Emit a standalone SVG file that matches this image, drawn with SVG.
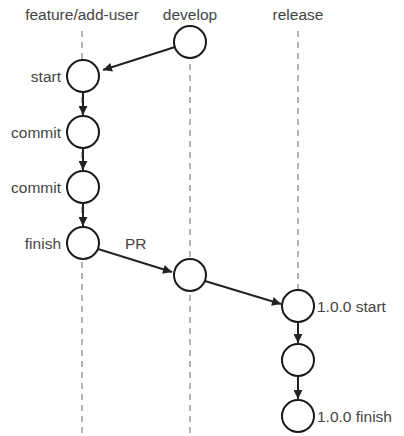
<svg xmlns="http://www.w3.org/2000/svg" width="404" height="436" viewBox="0 0 404 436">
<defs>
<style>
.lane{stroke:#a0a0a0;stroke-width:1.6;stroke-dasharray:6 5;fill:none}
.node{fill:#fff;stroke:#1a1a1a;stroke-width:2}
.edge{stroke:#222;stroke-width:2;fill:none;marker-end:url(#ah)}
text{font-family:"Liberation Sans",Arial,sans-serif;font-size:15.5px;fill:#444}
.r{text-anchor:end}
.c{text-anchor:middle}
</style>
<marker id="ah" viewBox="0 0 10 10" refX="10" refY="5" markerWidth="10" markerHeight="9" markerUnits="userSpaceOnUse" orient="auto"><path d="M0,0L10,5L0,10z" fill="#222"/></marker>
</defs>
<g id="lanes">
<line class="lane" x1="82" y1="31" x2="82" y2="436"/>
<line class="lane" x1="190" y1="31" x2="190" y2="436"/>
<line class="lane" x1="298" y1="31" x2="298" y2="300"/>
<text class="c" x="82" y="20">feature/add-user</text>
<text class="c" x="190" y="20">develop</text>
<text class="c" x="298" y="20">release</text>
</g>
<g id="connectors">
<line class="edge" x1="175" y1="47" x2="103" y2="70"/>
<line class="edge" x1="83" y1="92" x2="83" y2="115"/>
<line class="edge" x1="83" y1="148" x2="83" y2="170"/>
<line class="edge" x1="83" y1="203" x2="83" y2="226"/>
<line class="edge" x1="98" y1="249" x2="172" y2="272"/>
<line class="edge" x1="205" y1="281" x2="281" y2="304"/>
<line class="edge" x1="298" y1="322" x2="298" y2="343"/>
<line class="edge" x1="298" y1="377" x2="298" y2="399"/>
<text x="125" y="249">PR</text>
</g>
<g id="n-dev1"><circle class="node" cx="190" cy="42" r="16"/></g>
<g id="n-start"><circle class="node" cx="83" cy="76" r="16"/><text class="r" x="61" y="82">start</text></g>
<g id="n-commit1"><circle class="node" cx="83" cy="132" r="16"/><text class="r" x="61" y="138">commit</text></g>
<g id="n-commit2"><circle class="node" cx="83" cy="187" r="16"/><text class="r" x="61" y="193">commit</text></g>
<g id="n-finish"><circle class="node" cx="83" cy="243" r="16"/><text class="r" x="61" y="249">finish</text></g>
<g id="n-dev2"><circle class="node" cx="190" cy="275" r="16"/></g>
<g id="n-rel1"><circle class="node" cx="298" cy="306" r="16"/><text x="317" y="312">1.0.0 start</text></g>
<g id="n-rel2"><circle class="node" cx="298" cy="360" r="16"/></g>
<g id="n-rel3"><circle class="node" cx="298" cy="416" r="16"/><text x="317" y="422">1.0.0 finish</text></g>
</svg>
